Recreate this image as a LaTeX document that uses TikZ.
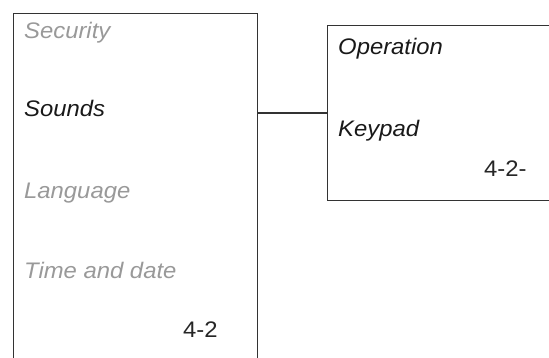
\documentclass[tikz,border=0pt]{standalone}
\usepackage{fontspec}
\setmainfont{Liberation Sans}[FakeStretch=1.06]
\usetikzlibrary{calc}
\definecolor{menugrey}{gray}{0.6}
\definecolor{linegrey}{gray}{0.2}
\tikzset{
  panel/.style={draw=linegrey, line width=1.1pt, inner sep=0pt, minimum width=#1},
  item/.style={anchor=base west, inner sep=0pt, font=\fontsize{22.5}{27}\selectfont\itshape},
  dim/.style={text=menugrey},
  pagenum/.style={anchor=base west, inner sep=0pt, font=\fontsize{22.5}{27}\selectfont, text=black!85},
  link/.style={draw=linegrey, line width=1.1pt}
}
\begin{document}
\begin{tikzpicture}[x=1pt,y=-1pt]
\useasboundingbox (0,0) rectangle (549,358);
\clip (0,0) rectangle (549,358);
% panels
\node[panel=244pt, minimum height=370pt, anchor=north west] (left) at (13,13) {};
\node[panel=240pt, minimum height=175pt, anchor=north west] (right) at (327,25) {};
% texts
\node[item, dim] (sec) at (24,39) {Security};
\node[item, text=black!90] (snd) at (24,117) {Sounds};
\node[item, dim] (lang) at (24,199) {Language};
\node[item, dim] (td) at (24,278) {Time and date};
\node[pagenum] (p1) at (183,337) {4-2};
\node[item, text=black!90] (op) at (338,55) {Operation};
\node[item, text=black!90] (key) at (338,137) {Keypad};
\node[pagenum] (p2) at (484,177) {4-2-};
% connector
\coordinate (cy) at (0,113);
\draw[link] (left.east |- cy) -- (right.west |- cy);
\end{tikzpicture}
\end{document}
